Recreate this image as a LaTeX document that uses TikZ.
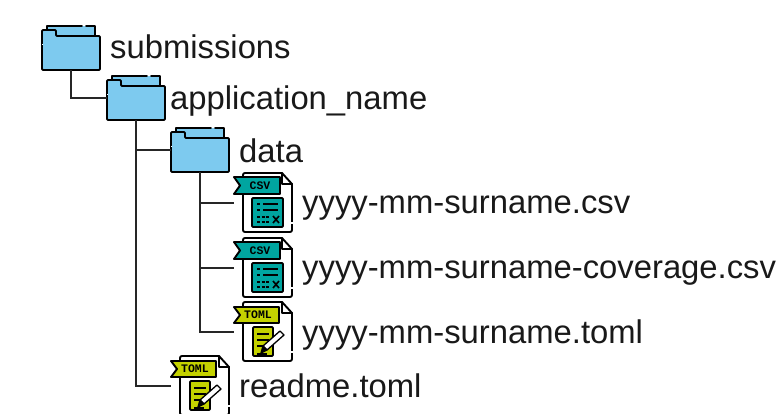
\documentclass[tikz,border=0pt]{standalone}
\usepackage{fontspec}
\setmainfont{Liberation Sans}
\newfontfamily\tagfont{Liberation Mono}
\definecolor{fblue}{HTML}{7DCAEF}
\definecolor{cteal}{HTML}{00A5A0}
\definecolor{tlime}{HTML}{C4D200}
\newcommand{\lbl}{\fontsize{32.8}{36}\selectfont}
\tikzset{
  ink/.style={draw=black,line width=1.9pt,line join=round,line cap=round},
  conn/.style={draw=black!85,line width=2pt},
  label/.style={anchor=base west,inner sep=0pt,font=\lbl,text=black!90},
  folderbox/.style={minimum width=58pt,minimum height=45pt,inner sep=0pt,anchor=north west},
  filebox/.style={minimum width=58pt,minimum height=59pt,inner sep=0pt,anchor=north west},
  tag/.style={inner sep=0pt,font=\tagfont\bfseries\fontsize{11.5}{12}\selectfont},
  folder/.pic={
    \node[folderbox] (-b) at (0,0) {};
    \fill[fblue] (5,1) rectangle (53,10);
    \draw[ink] (5,5) -- (5,1) -- (40,1) (44,1) -- (53,1) -- (53,10);
    \path[ink,fill=fblue,rounded corners=1pt] (0,17) -- (0,5) -- (14,5) -- (14,11) -- (58,11) -- (58,45) -- (0,45) -- cycle;
    \draw[white,line width=1pt] (0,19) -- (0,20);
  },
  filebody/.pic={
    \path[ink,fill=white] (2,0) -- (39,0) -- (49,11) -- (49,57) arc[start angle=0,end angle=90,radius=2] -- (2,59) arc[start angle=90,end angle=180,radius=2] -- (0,2) arc[start angle=180,end angle=270,radius=2] -- cycle;
    \draw[ink] (39,0) -- (39,11) -- (49,11);
    \draw[white,line width=1.2pt] (49,49) -- (49,51);
  },
  csvfile/.pic={
    \node[filebox] (-b) at (-9,0) {};
    \pic {filebody};
    \path[ink,fill=cteal] (-9,4) -- (37,4) -- (37,21) -- (-9,21) -- (-3,12.5) -- cycle;
    \node[tag] at (17,12.5) {CSV};
    \path[ink,fill=cteal,rounded corners=1pt] (9,25) rectangle (40,54);
    \draw[black,line width=1.5pt] (14,31) -- (17,31) (20,31) -- (35,31) (14,37) -- (17,37) (20,37) -- (35,37);
    \draw[black,line width=1.5pt,dash pattern=on 3pt off 1.5pt] (14,44) -- (27,44) (14,49) -- (27,49);
    \draw[black,line width=1.6pt] (30,43) -- (36,50) (36,43) -- (30,50);
  },
  tomlfile/.pic={
    \node[filebox] (-b) at (-9,0) {};
    \pic {filebody};
    \path[ink,fill=tlime] (-9,5) -- (36,5) -- (36,21) -- (-9,21) -- (-3,13) -- cycle;
    \node[tag] at (15,13) {TOML};
    \path[ink,fill=tlime,rounded corners=1pt] (10,25) rectangle (30,54);
    \draw[black,line width=1.5pt] (14,32) -- (26,32) (14,38) -- (26,38) (14,44) -- (22,44);
    \path[draw=black,line width=1.3pt,fill=white,line join=round] (37,29) -- (41,33) -- (24,48) -- (20,44) -- cycle;
    \path[draw=black,line width=1.3pt,fill=black,line join=round] (20,44) -- (24,48) -- (18,51) -- cycle;
    \draw[black,line width=1.5pt] (14,52) -- (24,52);
  }
}
\begin{document}
\begin{tikzpicture}[x=1pt,y=-1pt]
\useasboundingbox[fill=white] (0,0) rectangle (777,414);
\pic (sub) at (42,25) {folder};
\pic (app) at (107,75) {folder};
\pic (dat) at (171,127) {folder};
\pic (fa) at (243,173) {csvfile};
\pic (fb) at (243,238) {csvfile};
\pic (fc) at (243,302) {tomlfile};
\pic (fd) at (180,356) {tomlfile};
\draw[conn] (sub-b.south) |- (app-b.west);
\draw[conn] (app-b.south) |- (dat-b.west);
\draw[conn] (app-b.south) |- (fd-b.west);
\draw[conn] (dat-b.south) |- (fa-b.west);
\draw[conn] (dat-b.south) |- (fb-b.west);
\draw[conn] (dat-b.south) |- (fc-b.west);
\node[label] (t1) at (110,59) {submissions};
\node[label] (t2) at (170,110) {application\_name};
\node[label] (t3) at (239,163) {data};
\node[label] (t4) at (302,214) {yyyy-mm-surname.csv};
\node[label] (t5) at (302,279) {yyyy-mm-surname-coverage.csv};
\node[label] (t6) at (302,343) {yyyy-mm-surname.toml};
\node[label] (t7) at (239,397) {readme.toml};
\end{tikzpicture}
\end{document}
